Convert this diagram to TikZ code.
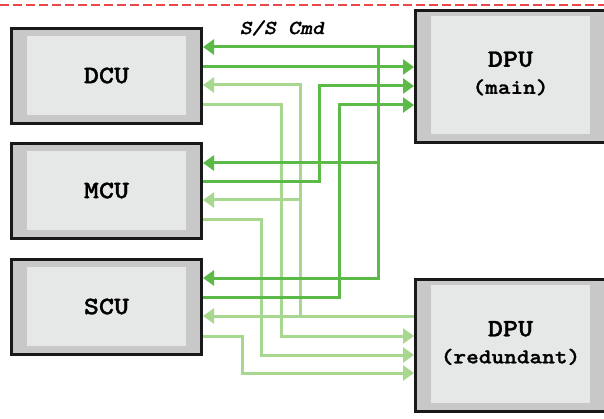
\documentclass[tikz,border=0pt]{standalone}
\usepackage{fontspec}
\newfontfamily\titlefont{lmmonolt10-bold.otf}[FakeStretch=1.15, FakeBold=1.2]
\newfontfamily\cmdfont{lmmonolt10-boldoblique.otf}[FakeStretch=1.15, FakeBold=0.8]
\usetikzlibrary{arrows.meta}
\definecolor{dkgreen}{HTML}{5BBA48}
\definecolor{ltgreen}{HTML}{A8D88F}
\definecolor{outergray}{HTML}{C8C8C8}
\definecolor{innergray}{HTML}{E6E7E7}
\definecolor{dashred}{HTML}{E84848}
\tikzset{
  outerbox/.style={draw=black!90, line width=3pt, fill=outergray, minimum width=190pt, inner sep=0pt},
  innerbox/.style={fill=innergray, minimum width=159pt, inner sep=0pt, align=center},
  title/.style={font=\titlefont\fontsize{25}{28}\selectfont},
  dputext/.style={font=\titlefont\fontsize{21}{27}\selectfont},
  dk/.style={draw=dkgreen, line width=3pt},
  lt/.style={draw=ltgreen, line width=3pt},
  tip/.style={-{Triangle[length=11pt,width=15pt]}},
}
\begin{document}
\begin{tikzpicture}[x=1pt,y=-1pt]
\useasboundingbox (0,0) rectangle (604,419);
\draw[dashred, line width=1.2pt, dash pattern=on 8.5pt off 4.5pt] (0,5) -- (604,5);
% boxes
\node[outerbox, minimum height=95pt] (dcu) at (106.5,76) {};
\node[innerbox, minimum height=79pt, title] (dcui) at (106.5,75.5) {DCU};
\node[outerbox, minimum height=95pt] (mcu) at (106.5,191) {};
\node[innerbox, minimum height=79pt, title] (mcui) at (106.5,190.5) {MCU};
\node[outerbox, minimum height=95pt] (scu) at (106.5,307) {};
\node[innerbox, minimum height=79pt, title] (scui) at (106.5,306.5) {SCU};
\node[outerbox, minimum height=132pt] (dpum) at (510.5,76.5) {};
\node[innerbox, minimum height=118pt] (dpumi) at (510.5,75) {};
\node[dputext, align=center] (dpumt) at (510.5,73.5) {{\fontsize{25}{27}\selectfont DPU}\\(main)};
\node[outerbox, minimum height=132pt] (dpur) at (510.5,345.5) {};
\node[innerbox, minimum height=118pt] (dpuri) at (510.5,344) {};
\node[dputext, align=center] (dpurt) at (510.5,343) {{\fontsize{25}{27}\selectfont DPU}\\(redundant)};
\node[font=\cmdfont\fontsize{20}{22}\selectfont] (cmd) at (282,28) {S/S Cmd};
% junction coordinates
\coordinate (jr) at (300,316);
\coordinate (jm) at (378,47);
% light green connectors (DPU redundant)
\draw[lt,tip] (dpur.west |- 0,316) -- (scu.east |- 0,316);
\draw[lt,tip] (jr) -- (300,85) -- (dcu.east |- 0,85);
\draw[lt,tip] (300,200) -- (mcu.east |- 0,200);
\draw[lt,tip] (dcu.east |- 0,105) -- (281,105) -- (281,336) -- (dpur.west |- 0,336);
\draw[lt,tip] (mcu.east |- 0,220) -- (261,220) -- (261,355) -- (dpur.west |- 0,355);
\draw[lt,tip] (scu.east |- 0,336) -- (242,336) -- (242,373) -- (dpur.west |- 0,373);
% dark green connectors (DPU main)
\draw[dk,tip] (dpum.west |- 0,47) -- (dcu.east |- 0,47);
\draw[dk,tip] (jm) -- (378,278) -- (scu.east |- 0,278);
\draw[dk,tip] (378,163) -- (mcu.east |- 0,163);
\draw[dk,tip] (dcu.east |- 0,67) -- (dpum.west |- 0,67);
\draw[dk,tip] (mcu.east |- 0,182) -- (319,182) -- (319,86) -- (dpum.west |- 0,86);
\draw[dk,tip] (scu.east |- 0,297) -- (339,297) -- (339,105) -- (dpum.west |- 0,105);
\end{tikzpicture}
\end{document}
